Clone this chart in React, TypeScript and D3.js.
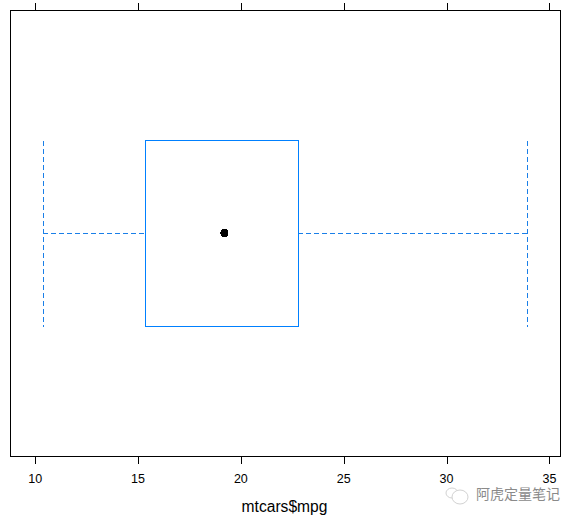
import React from "react";
import * as d3 from "d3";

const xTicks = [10, 15, 20, 25, 30, 35];
const whiskerLow = [10.4];
const hingeLow = [15.35];
const medianValue = [19.2];
const hingeHigh = [22.8];
const whiskerHigh = [33.94];
const groups = ["mtcars$mpg"];
const xLabel = "mtcars$mpg";
const watermark = "阿虎定量笔记";

const BLUE = "#0080ff";
const DASH = "#1a7fe8";
const F = "'Liberation Sans', Arial, sans-serif";

export default function App() {
  const x = d3.scaleLinear().domain([8.8, 35.54]).range([10.5, 560.5]);
  const y = d3.scaleBand().domain(groups).range([10.5, 456.5]).paddingInner(0).paddingOuter(0.0);
  const cy = (y(groups[0]) as number) + y.bandwidth() / 2;
  const half = 93;
  const yTop = cy - half;
  const yBot = cy + half;
  const lo = x(whiskerLow[0]);
  const hi = x(whiskerHigh[0]);
  const q1 = x(hingeLow[0]);
  const q3 = x(hingeHigh[0]);
  const m = x(medianValue[0]);
  return (
    <svg width={578} height={521} style={{ position: "fixed", left: 0, top: 0, display: "block", background: "#fff" }}>
      <rect x={10.5} y={10.5} width={550} height={446} fill="none" stroke="#000" strokeWidth={1} />
      {xTicks.map((t) => (
        <g key={t}>
          <line x1={Math.round(x(t)) + 0.5} x2={Math.round(x(t)) + 0.5} y1={3} y2={10} stroke="#000" />
          <line x1={Math.round(x(t)) + 0.5} x2={Math.round(x(t)) + 0.5} y1={457} y2={464} stroke="#000" />
          <text x={x(t)} y={483} textAnchor="middle" fontFamily={F} fontSize={12.5} fill="#000">{t}</text>
        </g>
      ))}
      <g stroke={DASH} strokeWidth={1} fill="none" strokeDasharray="5 3" shapeRendering="crispEdges">
        <line x1={lo} x2={q1} y1={cy - 0.5} y2={cy - 0.5} />
        <line x1={q3} x2={hi} y1={cy - 0.5} y2={cy - 0.5} />
        <line x1={lo} x2={lo} y1={yTop} y2={yBot} />
        <line x1={hi} x2={hi} y1={yTop} y2={yBot} />
      </g>
      <rect x={q1} y={yTop} width={q3 - q1} height={yBot - yTop} fill="none" stroke={BLUE} strokeWidth={1} shapeRendering="crispEdges" />
      <circle cx={m} cy={cy - 0.5} r={4} fill="#000" shapeRendering="crispEdges" />
      <text x={284.5} y={512} textAnchor="middle" fontFamily={F} fontSize={15.6} fill="#000">{xLabel}</text>
      <g fill="none" stroke="#d2d2d2" strokeWidth={1}>
        <ellipse cx={452} cy={493} rx={6} ry={5} />
        <ellipse cx={460} cy={497} rx={8} ry={7} fill="#fff" />
      </g>
      <text x={476} y={499} fontFamily="'Noto Sans CJK SC', sans-serif" fontSize={14} fill="#8a8a8a">{watermark}</text>
    </svg>
  );
}
